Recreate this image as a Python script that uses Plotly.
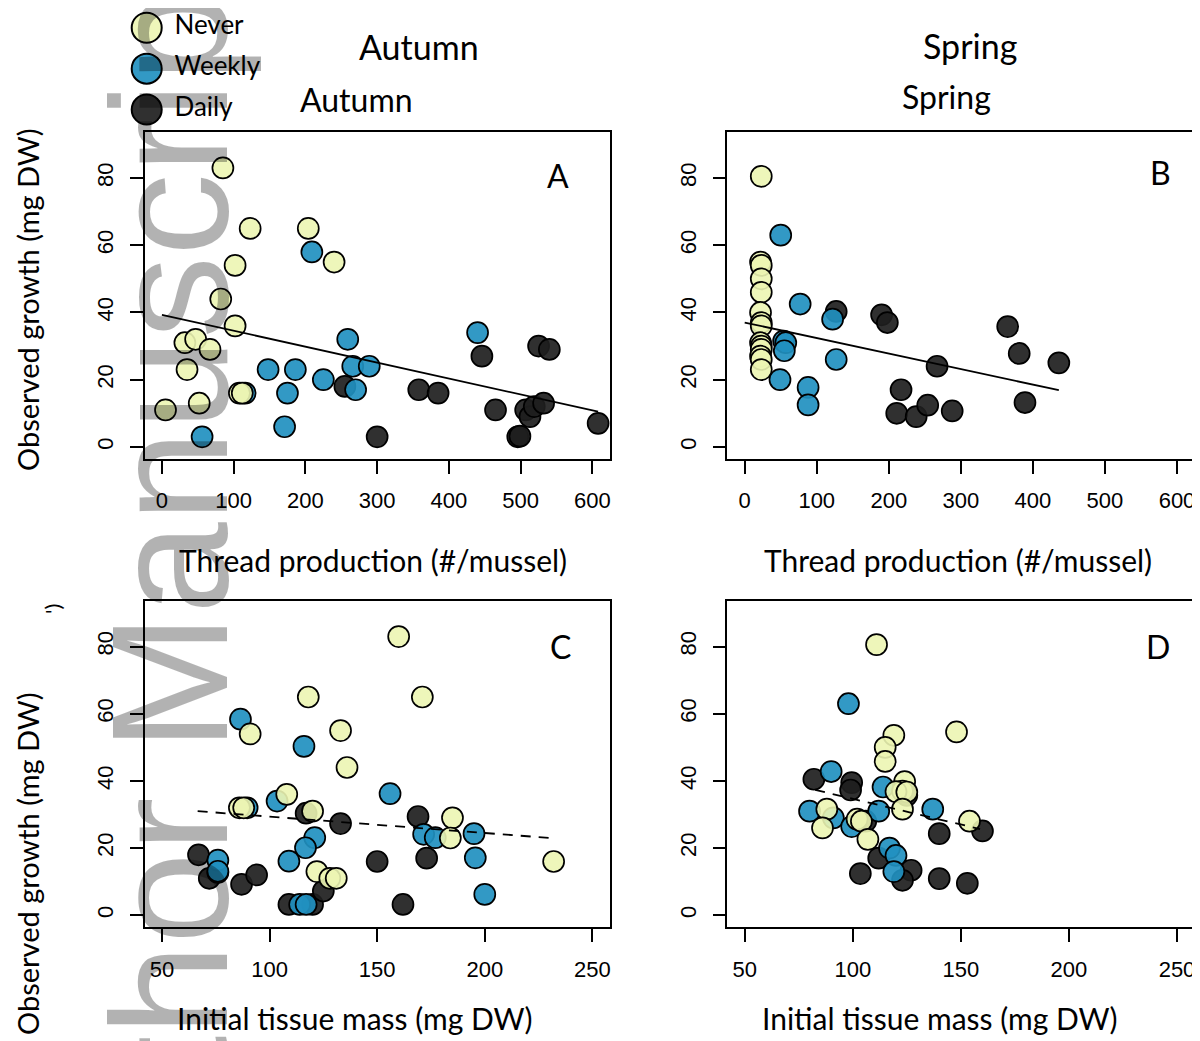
import plotly.graph_objects as go

# page body has an 8px margin; the figure fills the rest of the 1200x1041 window
OFF = 8
W, H = 1200 - OFF, 1041 - OFF

groups = ["Never", "Weekly", "Daily"]
fills = {"Never": "rgba(236,245,178,0.9)", "Weekly": "rgba(33,144,192,0.92)", "Daily": "rgba(30,30,30,0.92)"}

# ---- Panel A: Autumn, thread production vs observed growth
A_never_x = [85, 123, 204, 240, 102, 82, 102, 32, 47, 67, 35, 108, 112, 52, 5]
A_never_y = [83, 65, 65, 55, 54, 44, 36, 31, 32, 29, 23, 16, 16, 13, 11]
A_weekly_x = [209, 259, 148, 186, 225, 266, 289, 270, 175, 171, 56, 116, 440]
A_weekly_y = [58, 32, 23, 23, 20, 24, 24, 17, 16, 6, 3, 16, 34]
A_daily_x = [255, 300, 446, 525, 540, 358, 385, 465, 507, 513, 519, 532, 496, 499, 608]
A_daily_y = [18, 3, 27, 30, 29, 17, 16, 11, 11, 9, 12, 13, 3, 3.2, 7]

# ---- Panel B: Spring, thread production vs observed growth
B_never_x = [23, 22, 23, 23, 23, 22, 23, 23, 22, 23, 23, 22, 23, 23]
B_never_y = [80.5, 55, 54, 50, 46, 40, 37, 36, 31, 30, 29, 27, 26, 23]
B_weekly_x = [50, 77, 122, 127, 54, 57, 55, 49, 88, 88]
B_weekly_y = [63, 42.5, 38, 26, 31.5, 31, 28.6, 20, 17.7, 12.5]
B_daily_x = [127, 190, 198, 267, 217, 211, 238, 254, 288, 365, 381, 436, 389]
B_daily_y = [40.3, 39.3, 37, 24, 17, 10, 9, 12.4, 10.7, 35.8, 27.8, 25, 13.2]

# ---- Panel C: Autumn, initial tissue mass vs observed growth
C_never_x = [160, 118, 171, 91, 133, 136, 108, 86, 88, 120, 185, 184, 122, 128, 131, 232]
C_never_y = [83, 65, 65, 54, 55, 44, 36, 32, 32, 31, 29, 23, 13, 11, 11, 16]
C_weekly_x = [86.5, 116, 156, 103.5, 89.6, 121, 116.7, 109, 76, 76, 171.6, 177, 195, 195.6, 200, 114, 117]
C_weekly_y = [58.4, 50.3, 36.2, 34, 32, 23.1, 20.1, 16.1, 16.4, 13.1, 24.1, 23.1, 24.3, 17.1, 6.2, 3.2, 3.2]
C_daily_x = [67, 72, 76, 87, 94, 109, 120, 125, 117, 133, 150, 162, 169, 173]
C_daily_y = [18, 11, 12.7, 9.2, 12, 3.2, 3.2, 7.2, 30.4, 27.3, 16, 3.2, 29.4, 17]

# ---- Panel D: Spring, initial tissue mass vs observed growth
D_never_x = [111, 148, 119, 115, 115, 124, 123, 120, 125, 123, 88, 86, 102, 104, 107, 154]
D_never_y = [80.6, 54.6, 53.6, 50, 45.8, 39.8, 37, 36.8, 36.7, 31.6, 31.6, 26, 28.6, 28, 22.6, 28]
D_weekly_x = [98, 90, 114, 137, 80, 91, 99.5, 112, 117, 120, 119]
D_weekly_y = [63, 42.8, 38.2, 31.6, 31, 29, 26.4, 31, 20, 17.8, 13]
D_daily_x = [82, 99.5, 99, 106, 112, 103.5, 127, 123, 140, 140, 153, 160, 125]
D_daily_y = [40.5, 39.5, 37.3, 28, 17, 12.4, 13.4, 10.4, 24.3, 10.9, 9.5, 25.1, 35.7]

# regression lines: A, B, C, D
trend_intercept = [39.3, 37.0, 34.25, 49.97]
trend_slope = [-0.0474, -0.0462, -0.0488, -0.153]
trend_x0 = [0, 0, 66.6, 82.6]
trend_x1 = [608, 436, 230.5, 158.9]

panel_letters = ["A", "B", "C", "D"]
seasons = ["Autumn", "Spring"]
xtitle_thread = "Thread production (#/mussel)"
xtitle_mass = "Initial tissue mass (mg DW)"
ytitle = "Observed growth (mg DW)"

thread_ticks = [0, 100, 200, 300, 400, 500, 600]
mass_ticks = [50, 100, 150, 200, 250]
growth_ticks = [0, 20, 40, 60, 80]

panels = [
    (A_never_x, A_never_y, A_weekly_x, A_weekly_y, A_daily_x, A_daily_y),
    (B_never_x, B_never_y, B_weekly_x, B_weekly_y, B_daily_x, B_daily_y),
    (C_never_x, C_never_y, C_weekly_x, C_weekly_y, C_daily_x, C_daily_y),
    (D_never_x, D_never_y, D_weekly_x, D_weekly_y, D_daily_x, D_daily_y),
]

def px_x(p):
    return (p - OFF) / W

def px_y(p):
    return 1 - (p - OFF) / H

fig = go.Figure()
MS = 21
for i, (nx, ny, wx, wy, dx, dy) in enumerate(panels):
    xa = "x" if i == 0 else f"x{i+1}"
    ya = "y" if i == 0 else f"y{i+1}"
    for name, xs, ys in [("Daily", dx, dy), ("Weekly", wx, wy), ("Never", nx, ny)]:
        fig.add_trace(go.Scatter(
            x=xs, y=ys, mode="markers", xaxis=xa, yaxis=ya, showlegend=False,
            marker=dict(size=MS, color=fills[name], line=dict(color="black", width=1.7)),
            cliponaxis=False))
    x0, x1 = trend_x0[i], trend_x1[i]
    b0, b1 = trend_intercept[i], trend_slope[i]
    fig.add_trace(go.Scatter(
        x=[x0, x1], y=[b0 + b1 * x0, b0 + b1 * x1], mode="lines", xaxis=xa, yaxis=ya,
        showlegend=False,
        line=dict(color="black", width=1.8, dash="solid" if i < 2 else "10px,8px")))

# legend drawn as points on a hidden axis (1 unit = 15 px, marker centre at x=0)
fig.add_trace(go.Scatter(
    x=[0, 0, 0], y=[2, 1, 0], mode="markers", xaxis="x5", yaxis="y5",
    showlegend=False, cliponaxis=False,
    marker=dict(size=30, color=[fills[g] for g in groups], line=dict(color="black", width=2))))
fig.add_trace(go.Scatter(
    x=[1.85, 1.85, 1.85], y=[2, 1, 0], mode="text", xaxis="x5", yaxis="y5",
    text=groups, textposition="middle right", showlegend=False, cliponaxis=False,
    textfont=dict(family="Lato", size=26, color="black")))

tickfont = dict(family="Liberation Sans", size=22, color="black")
xdom_left = [px_x(144.7), px_x(609.6)]
xdom_right = [px_x(727.4), px_x(1194.3)]
ydom_top = [px_y(459), px_y(132.3)]
ydom_bot = [px_y(927.3), px_y(601)]

def xax(dom, rng, ticks, anchor):
    return dict(domain=dom, range=rng, tickvals=ticks, ticks="outside", ticklen=13, tickwidth=1.5,
                tickcolor="black", showline=True, mirror=True, linecolor="black", linewidth=1.8,
                showgrid=False, zeroline=False, tickfont=tickfont, ticklabelstandoff=8, anchor=anchor)

def yax(dom, anchor):
    return dict(domain=dom, range=[-3.6, 93.6], tickvals=growth_ticks, ticks="outside", ticklen=13,
                tickwidth=1.5, tickcolor="black", showline=True, mirror=True, linecolor="black",
                linewidth=1.8, showgrid=False, zeroline=False, tickfont=tickfont, tickangle=-90,
                ticklabelstandoff=8, anchor=anchor)

LEG_L, LEG_R = 131.7, 281.7
fig.update_layout(
    width=W, height=H, margin=dict(l=0, r=0, t=0, b=0),
    paper_bgcolor="white", plot_bgcolor="rgba(0,0,0,0)",
    xaxis=xax(xdom_left, [-24, 624], thread_ticks, "y"),
    yaxis=yax(ydom_top, "x"),
    xaxis2=xax(xdom_right, [-24, 624], thread_ticks, "y2"),
    yaxis2=yax(ydom_top, "x2"),
    xaxis3=xax(xdom_left, [42, 258], mass_ticks, "y3"),
    yaxis3=yax(ydom_bot, "x3"),
    xaxis4=xax(xdom_right, [42, 258], mass_ticks, "y4"),
    yaxis4=yax(ydom_bot, "x4"),
    xaxis5=dict(domain=[px_x(LEG_L), px_x(LEG_R)], range=[-1, (LEG_R - LEG_L) / 15 - 1],
                visible=False, anchor="y5", fixedrange=True),
    yaxis5=dict(domain=[px_y(130), px_y(11.4)], range=[-0.5, 2.4], visible=False, anchor="x5",
                fixedrange=True),
)

tfont = "Lato"
ann = []
def text(t, x, y, size, angle=0):
    ann.append(dict(text=t, x=px_x(x), y=px_y(y), xref="paper", yref="paper",
                    showarrow=False, xanchor="center", yanchor="middle", textangle=angle,
                    font=dict(family=tfont, size=size, color="black")))

text(seasons[0], 419, 46, 34)
text(seasons[1], 970, 45, 34)
text(seasons[0], 356, 99, 32)
text(seasons[1], 946, 97, 32)
for letter, (x, y) in zip(panel_letters, [(558, 175), (1160, 173), (560, 646), (1158, 646)]):
    text(letter, x, y, 32)
text(xtitle_thread, 373, 560, 30)
text(xtitle_thread, 958, 560, 30)
text(xtitle_mass, 355, 1018, 30)
text(xtitle_mass, 940, 1018, 30)
text(ytitle, 27, 300, 29, angle=-90)
text(ytitle, 27, 864, 29, angle=-90)
text("')", 52, 609, 22, angle=-90)

# watermark overlay
WM = 165
ann.append(dict(text="Author Manuscript", x=px_x(227 - 0.3465 * WM), y=px_y(613.5), xref="paper", yref="paper",
                showarrow=False, xanchor="center", yanchor="middle", textangle=-90,
                font=dict(family="Liberation Sans", size=WM, color="rgba(0,0,0,0.3)")))
fig.update_layout(annotations=ann)

fig.write_html("out.html")
